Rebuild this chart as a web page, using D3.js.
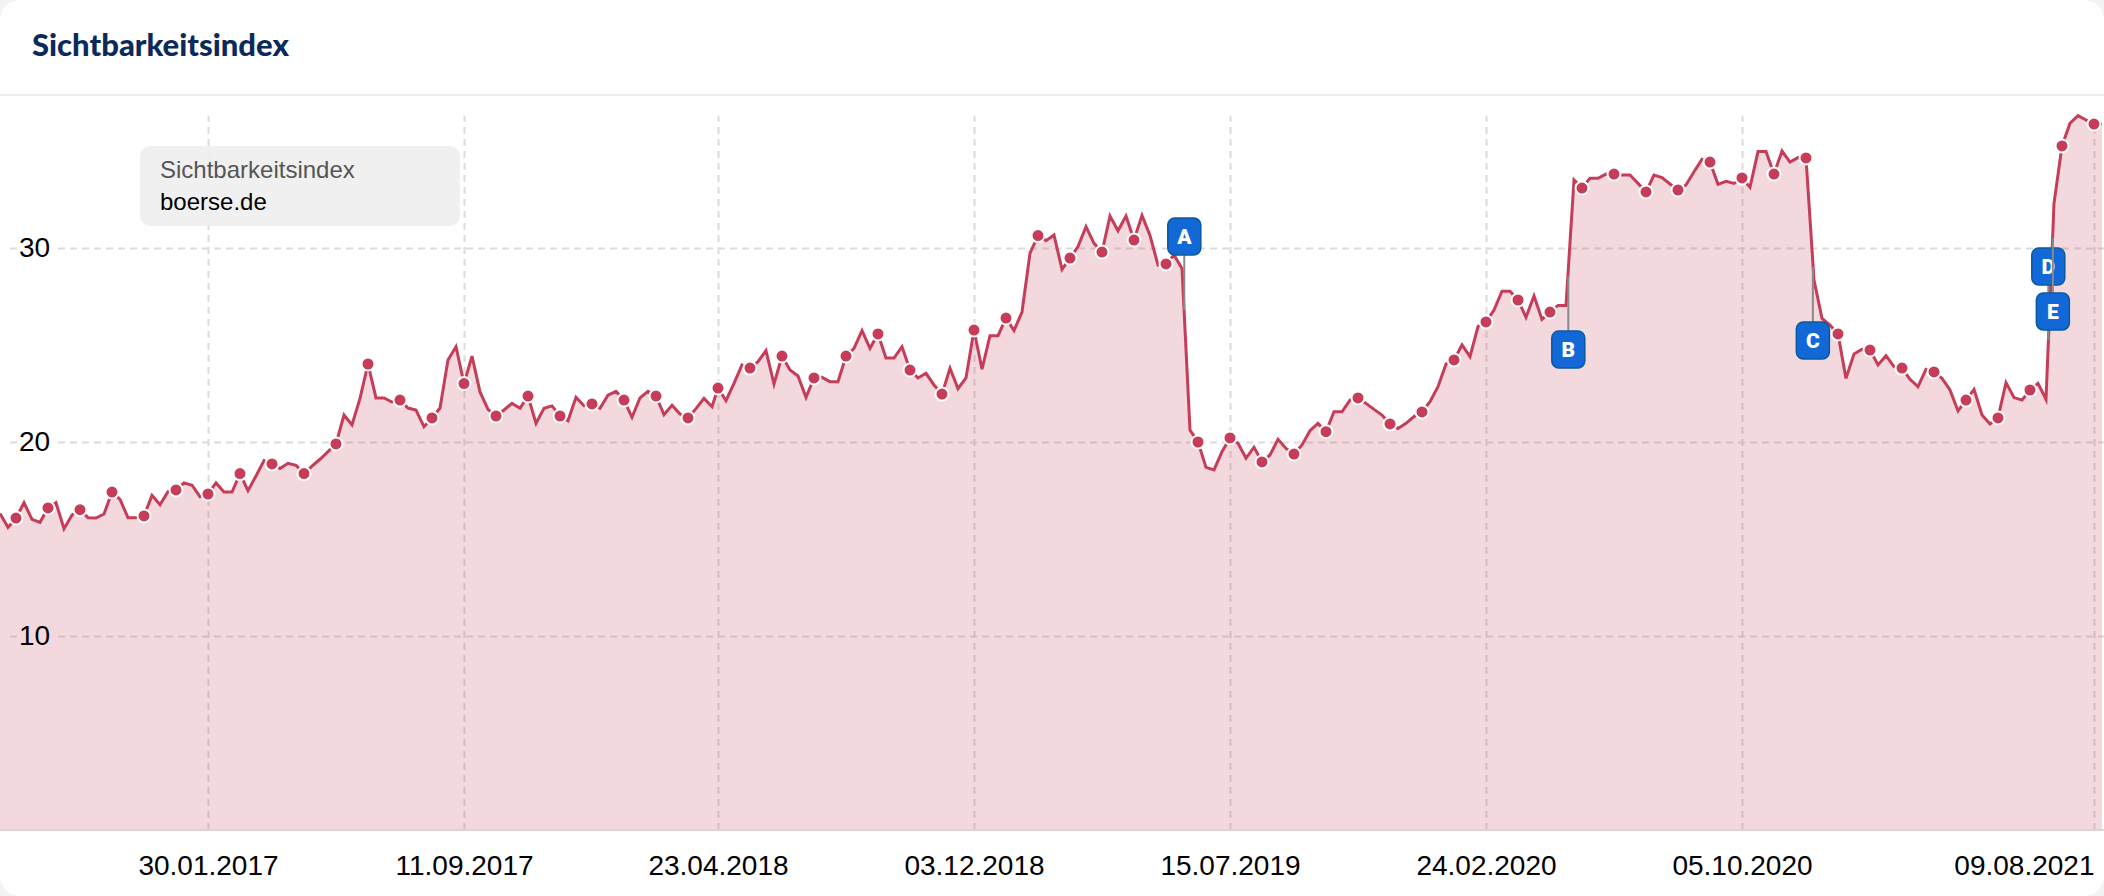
<!DOCTYPE html>
<html lang="de">

<head>
	<meta charset="UTF-8">
	<title>Sichtbarkeitsindex boerse.de</title>
	<script src="https://d3js.org/d3.v7.min.js"></script>
	<style>
		html, body {
			margin: 0;
			padding: 0;
			background: #f3f3f3;
		}

		svg {
			display: block;
		}

		.grid line {
			stroke: #dcdcdc;
			stroke-width: 2;
			stroke-dasharray: 7 5;
		}

		.tick-label {
			font-family: "Liberation Sans", Arial, sans-serif;
			font-size: 28px;
			fill: #000;
		}
	</style>
</head>

<body>

	<div id="chart"></div>

<script>

	var w = 2104;
	var h = 896;

	// weekly index values, first week is 01.08.2016
	var startDate = new Date(2016, 7, 1);
	var values = [
		16.32, 15.60, 16.08, 16.87, 16.01, 15.86, 16.60, 16.87, 15.53, 16.24,
		16.51, 16.10, 16.08, 16.29, 17.42, 17.04, 16.10, 16.10, 16.19, 17.25,
		16.77, 17.44, 17.53, 17.89, 17.77, 17.18, 17.32, 17.89, 17.42, 17.42,
		18.37, 17.49, 18.25, 19.04, 18.87, 18.63, 18.90, 18.80, 18.37, 18.76,
		19.11, 19.50, 19.90, 21.39, 20.88, 22.25, 24.02, 22.27, 22.27, 22.06,
		22.16, 21.75, 21.65, 20.79, 21.24, 21.75, 24.23, 24.91, 23.01, 24.43,
		22.58, 21.68, 21.34, 21.65, 21.99, 21.74, 22.37, 20.96, 21.74, 21.86,
		21.34, 21.10, 22.30, 21.87, 21.96, 21.74, 22.41, 22.61, 22.16, 21.27,
		22.27, 22.61, 22.37, 21.41, 21.89, 21.44, 21.24, 21.72, 22.25, 21.82,
		22.78, 22.13, 23.02, 23.97, 23.81, 24.14, 24.71, 22.99, 24.43, 23.71,
		23.40, 22.30, 23.30, 23.33, 23.11, 23.11, 24.43, 24.83, 25.74, 24.83,
		25.57, 24.33, 24.33, 24.91, 23.71, 23.30, 23.54, 22.94, 22.47, 23.80,
		22.75, 23.30, 25.77, 23.75, 25.48, 25.48, 26.39, 25.74, 26.70, 29.73,
		30.64, 30.38, 30.67, 28.90, 29.48, 30.07, 31.10, 30.24, 29.79, 31.65,
		30.89, 31.65, 30.41, 31.68, 30.65, 29.12, 29.18, 29.64, 28.95, 20.62,
		20.00, 18.69, 18.56, 19.50, 20.21, 19.93, 19.16, 19.73, 18.97, 19.33,
		20.14, 19.67, 19.38, 19.85, 20.58, 20.96, 20.53, 21.56, 21.56, 22.16,
		22.27, 21.99, 21.68, 21.39, 20.93, 20.70, 20.96, 21.31, 21.55, 22.08,
		22.85, 24.02, 24.23, 25.00, 24.40, 25.95, 26.19, 26.80, 27.77, 27.77,
		27.32, 26.43, 27.53, 26.32, 26.70, 27.04, 27.04, 33.51, 33.09, 33.59,
		33.59, 33.81, 33.81, 33.76, 33.76, 33.33, 32.89, 33.76, 33.63, 33.30,
		32.99, 33.25, 33.93, 34.57, 34.43, 33.28, 33.44, 33.33, 33.61, 33.13,
		34.97, 34.97, 33.81, 35.00, 34.43, 34.66, 34.64, 28.35, 26.37, 26.03,
		25.57, 23.28, 24.54, 24.78, 24.74, 23.97, 24.45, 23.88, 23.81, 23.23,
		22.85, 23.75, 23.61, 23.28, 22.68, 21.60, 22.16, 22.71, 21.39, 20.93,
		21.24, 23.06, 22.29, 22.16, 22.68, 23.02, 22.20, 32.30, 35.26, 36.43,
		36.82, 36.60, 36.39, 36.39
	];

	var yTicks = [10, 20, 30];
	var xTicks = ["30.01.2017", "11.09.2017", "23.04.2018", "03.12.2018", "15.07.2019", "24.02.2020", "05.10.2020", "09.08.2021"];

	// update markers
	var eventLabels = ["A", "B", "C", "D", "E"];
	var eventDates = ["05.06.2019", "06.05.2020", "06.12.2020", "30.06.2021", "04.07.2021"];
	var eventValues = [26.8, 28.56, 29.02, 25.26, 30.52];
	var eventAbove = [true, false, false, true, false];

	var parseDate = d3.timeParse("%d.%m.%Y");
	var formatDate = d3.timeFormat("%d.%m.%Y");

	var data = values.map(function (v, i) {
		return { date: d3.timeDay.offset(startDate, i * 7), value: v, i: i };
	});

	// the source chart loses 2px in the week of 23.04.2018
	var x = d3.scaleTime()
		.domain([data[0].date, data[89].date, data[90].date, data[data.length - 1].date])
		.range([0, 712, 718, 2102]);

	var y = d3.scaleLinear()
		.domain([0, 30])
		.range([830, 248]);

	var svg = d3.select("#chart").append("svg")
		.attr("width", w)
		.attr("height", h);

	svg.append("clipPath").attr("id", "card")
		.append("rect")
		.attr("width", w)
		.attr("height", h)
		.attr("rx", 20);

	var card = svg.append("g").attr("clip-path", "url(#card)");

	card.append("rect")
		.attr("width", w)
		.attr("height", h)
		.attr("fill", "#fff");

	// header
	card.append("text")
		.attr("x", 32)
		.attr("y", 56)
		.attr("font-family", "Lato, sans-serif")
		.attr("font-weight", 900)
		.attr("font-size", 31)
		.attr("fill", "#0b2a5b")
		.text("Sichtbarkeitsindex");

	card.append("line")
		.attr("x1", 0)
		.attr("x2", w)
		.attr("y1", 95)
		.attr("y2", 95)
		.attr("stroke", "#ececec")
		.attr("stroke-width", 2);

	// grid from the axes
	var xAxis = d3.axisBottom(x)
		.tickValues(xTicks.map(parseDate))
		.tickSize(-714)
		.tickFormat(formatDate);

	var gx = card.append("g")
		.attr("class", "grid")
		.attr("transform", "translate(0,830)")
		.call(xAxis);

	gx.select(".domain").remove();

	var yAxis = d3.axisRight(y)
		.tickValues(yTicks)
		.tickSize(w - 58);

	var gy = card.append("g")
		.attr("class", "grid")
		.attr("transform", "translate(58,0)")
		.call(yAxis);

	gy.select(".domain").remove();
	gy.selectAll(".tick text").remove();

	// small piece of the line left of the label
	gy.selectAll(".tick").append("line")
		.attr("x1", -48)
		.attr("x2", -41);

	// area and line
	var area = d3.area()
		.x(function (d) { return x(d.date); })
		.y0(y(0))
		.y1(function (d) { return y(d.value); });

	var line = d3.line()
		.x(function (d) { return x(d.date); })
		.y(function (d) { return y(d.value); });

	card.append("path")
		.datum(data)
		.attr("d", area)
		.attr("fill", "#c53d58")
		.attr("fill-opacity", 0.2);

	card.append("path")
		.datum(data)
		.attr("d", line)
		.attr("fill", "none")
		.attr("stroke", "#c53d58")
		.attr("stroke-width", 3);

	// every 4th week has a dot
	card.selectAll(".dot")
		.data(data.filter(function (d) { return d.i % 4 === 2; }))
		.enter()
		.append("circle")
		.attr("class", "dot")
		.attr("cx", function (d) { return x(d.date); })
		.attr("cy", function (d) { return y(d.value); })
		.attr("r", 6.5)
		.attr("fill", "#c53d58")
		.attr("stroke", "#fff")
		.attr("stroke-width", 2);

	// axis labels
	card.append("line")
		.attr("x1", 0)
		.attr("x2", w)
		.attr("y1", y(0))
		.attr("y2", y(0))
		.attr("stroke", "#dcd3d5")
		.attr("stroke-width", 2);

	gx.selectAll(".tick text")
		.attr("class", "tick-label")
		.attr("y", 45)
		.attr("dy", 0)
		.attr("text-anchor", function (d, i) { return i === xTicks.length - 1 ? "end" : "middle"; });

	card.selectAll(".y-label")
		.data(yTicks)
		.enter()
		.append("text")
		.attr("class", "tick-label y-label")
		.attr("x", 19)
		.attr("y", function (d) { return y(d) + 9; })
		.text(function (d) { return d; });

	// legend box
	card.append("rect")
		.attr("x", 140)
		.attr("y", 146)
		.attr("width", 320)
		.attr("height", 80)
		.attr("rx", 10)
		.attr("fill", "#eee")
		.attr("fill-opacity", 0.9);

	card.append("text")
		.attr("x", 160)
		.attr("y", 178)
		.attr("font-family", "Liberation Sans, Arial, sans-serif")
		.attr("font-size", 24)
		.attr("fill", "#555")
		.text("Sichtbarkeitsindex");

	card.append("text")
		.attr("x", 160)
		.attr("y", 210)
		.attr("font-family", "Liberation Sans, Arial, sans-serif")
		.attr("font-size", 24)
		.attr("fill", "#000")
		.text("boerse.de");

	// update markers, stem first and then the box
	var stem = 55;
	var boxW = 33;
	var boxH = 37;

	eventLabels.forEach(function (label, i) {
		var ex = x(parseDate(eventDates[i]));
		var ey = y(eventValues[i]);
		var boxTop = eventAbove[i] ? ey - stem - boxH : ey + stem;
		var stemEnd = eventAbove[i] ? ey - stem : ey + stem;

		var m = card.append("g").attr("class", "event");

		m.append("line")
			.attr("x1", ex)
			.attr("x2", ex)
			.attr("y1", ey)
			.attr("y2", stemEnd)
			.attr("stroke", "#8a8a8a")
			.attr("stroke-width", 2);

		m.append("rect")
			.attr("x", ex - boxW / 2)
			.attr("y", boxTop)
			.attr("width", boxW)
			.attr("height", boxH)
			.attr("rx", 7)
			.attr("fill", "#1168d6")
			.attr("stroke", "#0b5a9e")
			.attr("stroke-width", 1.5);

		m.append("text")
			.attr("x", ex)
			.attr("y", boxTop + boxH / 2 + 7.5)
			.attr("text-anchor", "middle")
			.attr("font-family", "Roboto, sans-serif")
			.attr("font-weight", 900)
			.attr("font-size", 21)
			.attr("fill", "#fff")
			.text(label);
	});

</script>

</body>

</html>
